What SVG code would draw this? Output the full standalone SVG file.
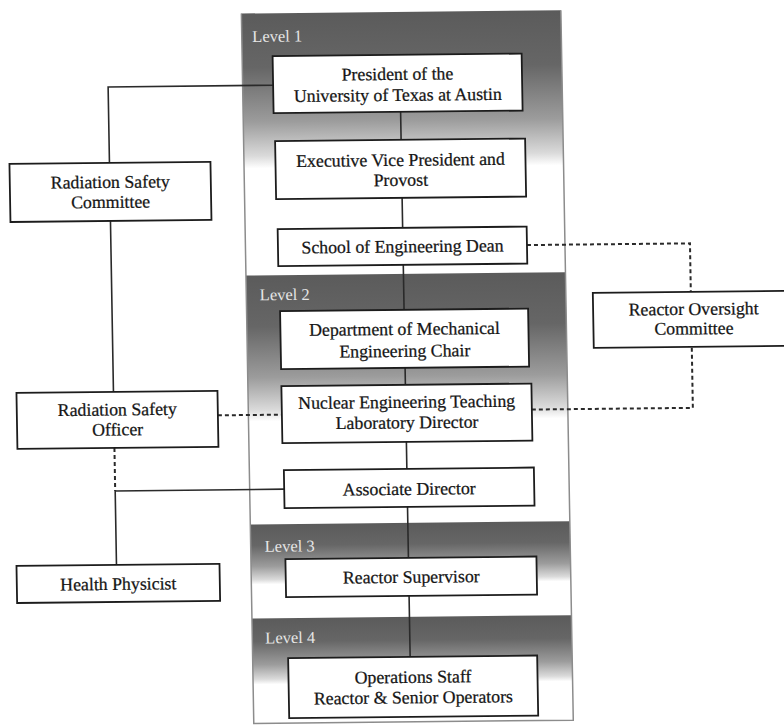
<svg xmlns="http://www.w3.org/2000/svg" width="784" height="726" viewBox="0 0 784 726">
  <defs>
    <linearGradient id="band" x1="0" y1="0" x2="0" y2="1">
      <stop offset="0" stop-color="#5b5b5b"/>
      <stop offset="0.35" stop-color="#666666"/>
      <stop offset="0.7" stop-color="#9c9c9c"/>
      <stop offset="0.92" stop-color="#dadada"/>
      <stop offset="1" stop-color="#ffffff"/>
    </linearGradient>
    <style>
      .box { fill: #ffffff; stroke: #1c1c1c; stroke-width: 1.8; }
      .t { font-family: "Liberation Serif", "Times New Roman", serif; font-size: 17.8px; fill: #151515; stroke: #151515; stroke-width: 0.25; text-anchor: middle; }
      .lv { font-family: "Liberation Serif", "Times New Roman", serif; font-size: 16.5px; fill: #e6e6e6; }
      .solid { fill: none; stroke: #2a2a2a; stroke-width: 1.6; }
      .dash { fill: none; stroke: #2a2a2a; stroke-width: 2; stroke-dasharray: 4 3; }
      .edge { fill: none; stroke: #8c8c8c; stroke-width: 1.5; }
    </style>
  </defs>
  <rect x="0" y="0" width="784" height="726" fill="#ffffff"/>
  <g transform="matrix(1 -0.0105 0.0175 1 -6.35 4.12)">
    <g id="levels">
      <rect x="247.5" y="12" width="319.5" height="155" fill="url(#band)"/>
      <rect x="247.5" y="274" width="319.5" height="146" fill="url(#band)"/>
      <rect x="247.5" y="523" width="319.5" height="60" fill="url(#band)"/>
      <rect x="247.5" y="617" width="319.5" height="66" fill="url(#band)"/>
      <path class="edge" d="M247.5 12 V722 H567 V12"/>
      <text class="lv" x="258" y="40.5">Level 1</text>
      <text class="lv" x="261" y="299">Level 2</text>
      <text class="lv" x="261.5" y="550.5">Level 3</text>
      <text class="lv" x="260.5" y="642">Level 4</text>
    </g>
    <g id="connectors">
      <path class="solid" d="M405 112 V140 M405 198 V228 M405 265 V310 M405 368 V385 M405 442 V469 M405 507 V558 M405 596 V657"/>
      <path class="solid" d="M278 84 H113 V160 M113 218 V389"/>
      <path class="dash" d="M113 445 V488"/>
      <path class="solid" d="M282 488 H113 V562"/>
      <path class="dash" d="M217 413.5 H281"/>
      <path class="dash" d="M529 246.5 H692 V295"/>
      <path class="dash" d="M531 411 H692 V350"/>
    </g>
    <g id="president">
      <rect class="box" x="278" y="55" width="249" height="57"/>
      <text class="t" x="402.5" y="80">President of the</text>
      <text class="t" x="402.5" y="101">University of Texas at Austin</text>
    </g>
    <g id="evp">
      <rect class="box" x="279" y="140" width="250" height="58"/>
      <text class="t" x="404" y="166">Executive Vice President and</text>
      <text class="t" x="404" y="186">Provost</text>
    </g>
    <g id="dean">
      <rect class="box" x="280" y="228" width="249" height="37"/>
      <text class="t" x="404.5" y="252.5">School of Engineering Dean</text>
    </g>
    <g id="mechchair">
      <rect class="box" x="281" y="310" width="248" height="58"/>
      <text class="t" x="405" y="335">Department of Mechanical</text>
      <text class="t" x="405" y="357">Engineering Chair</text>
    </g>
    <g id="netl">
      <rect class="box" x="281" y="385" width="250" height="57"/>
      <text class="t" x="406" y="408">Nuclear Engineering Teaching</text>
      <text class="t" x="406" y="428.5">Laboratory Director</text>
    </g>
    <g id="associate">
      <rect class="box" x="282" y="469" width="250" height="38"/>
      <text class="t" x="407" y="495">Associate Director</text>
    </g>
    <g id="supervisor">
      <rect class="box" x="282" y="558" width="251" height="38"/>
      <text class="t" x="407.5" y="583">Reactor Supervisor</text>
    </g>
    <g id="operations">
      <rect class="box" x="283" y="657" width="249" height="60"/>
      <text class="t" x="407.5" y="683">Operations Staff</text>
      <text class="t" x="407.5" y="703.5">Reactor &amp; Senior Operators</text>
    </g>
    <g id="rsc">
      <rect class="box" x="13" y="160" width="201" height="58"/>
      <text class="t" x="113.5" y="185">Radiation Safety</text>
      <text class="t" x="113.5" y="205">Committee</text>
    </g>
    <g id="rso">
      <rect class="box" x="16" y="389" width="201" height="56"/>
      <text class="t" x="116.5" y="412.5">Radiation Safety</text>
      <text class="t" x="116.5" y="432.5">Officer</text>
    </g>
    <g id="hp">
      <rect class="box" x="13" y="562" width="203" height="37"/>
      <text class="t" x="114.5" y="587">Health Physicist</text>
    </g>
    <g id="roc">
      <rect class="box" x="594" y="295" width="201" height="55"/>
      <text class="t" x="694.5" y="318">Reactor Oversight</text>
      <text class="t" x="694.5" y="337.5">Committee</text>
    </g>
  </g>
</svg>
